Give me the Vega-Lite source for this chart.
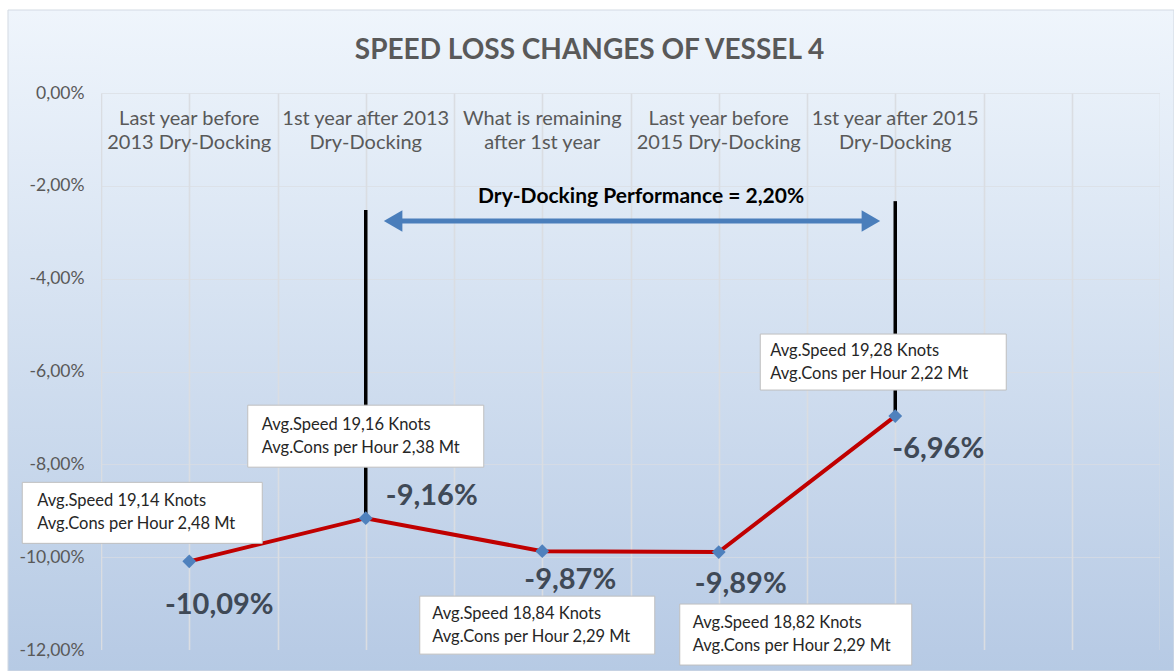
{
  "$schema": "https://vega.github.io/schema/vega-lite/v6.json",
  "width": 1059,
  "height": 557,
  "autosize": {"type": "none"},
  "padding": {"left": 101, "top": 93, "right": 14, "bottom": 21},
  "background": "white",
  "view": {
    "fill": {"gradient": "linear", "x1": 0, "y1": 0, "x2": 0, "y2": 1, "stops": [{"offset": 0, "color": "#e8f0f9"}, {"offset": 1, "color": "#b8cbe5"}]},
    "stroke": null
  },
  "config": {
    "font": "Lato",
    "locale": {"number": {"decimal": ",", "thousands": ".", "grouping": [3], "currency": ["", " €"], "minus": "-", "percent": "%"}},
    "text": {"lineBreak": "\n"}
  },
  "title": {"text": "SPEED LOSS CHANGES OF VESSEL 4", "font": "Lato", "fontSize": 28, "fontWeight": "bold", "color": "#595959", "anchor": "middle", "dx": -41, "offset": -55, "zindex": 1},
  "datasets": {
    "periods": [
      {"period": 1, "label": "Last year before\n2013 Dry-Docking", "loss": -0.1009, "note": "Avg.Speed 19,14 Knots\nAvg.Cons per Hour 2,48 Mt"},
      {"period": 2, "label": "1st year after 2013\nDry-Docking", "loss": -0.0916, "note": "Avg.Speed 19,16 Knots\nAvg.Cons per Hour 2,38 Mt"},
      {"period": 3, "label": "What is remaining\nafter 1st year", "loss": -0.0987, "note": "Avg.Speed 18,84 Knots\nAvg.Cons per Hour 2,29 Mt"},
      {"period": 4, "label": "Last year before\n2015 Dry-Docking", "loss": -0.0989, "note": "Avg.Speed 18,82 Knots\nAvg.Cons per Hour 2,29 Mt"},
      {"period": 5, "label": "1st year after 2015\nDry-Docking", "loss": -0.0696, "note": "Avg.Speed 19,28 Knots\nAvg.Cons per Hour 2,22 Mt"}
    ]
  },
  "data": {"name": "periods"},
  "resolve": {"axis": {"y": "independent"}},
  "layer": [
    {
      "mark": {"type": "point", "opacity": 0},
      "encoding": {
        "x": {"field": "period", "type": "quantitative", "scale": {"domain": [0.5, 6.5], "nice": false, "zero": false},
          "axis": {"orient": "bottom", "values": [0.5, 1, 1.5, 2, 2.5, 3, 3.5, 4, 4.5, 5, 5.5, 6, 6.5], "grid": true, "gridColor": "#dadde2", "gridWidth": 1.6, "labels": false, "ticks": false, "domain": false, "title": null, "zindex": 0}},
        "y": {"field": "loss", "type": "quantitative", "scale": {"domain": [-0.12, 0], "nice": false, "zero": false},
          "axis": {"orient": "left", "values": [-0.12, -0.1, -0.08, -0.06, -0.04, -0.02, 0], "grid": true, "gridColor": "#dadde2", "gridOpacity": 0.7, "gridWidth": 1.2, "labels": false, "ticks": false, "domain": false, "title": null, "zindex": 0}}
      }
    },
    {
      "data": {"values": [{}]},
      "mark": {"type": "rect", "color": {"gradient": "linear", "x1": 0, "y1": 0, "x2": 0, "y2": 1, "stops": [{"offset": 0, "color": "#eff5fc"}, {"offset": 1, "color": "#e8f0f9"}]}},
      "encoding": {
        "x": {"datum": -0.027, "type": "quantitative"},
        "x2": {"datum": 6.579},
        "y": {"datum": 0.01788, "type": "quantitative", "axis": null},
        "y2": {"datum": 0}
      }
    },
    {
      "data": {"values": [{}]},
      "mark": {"type": "rect", "color": {"gradient": "linear", "x1": 0, "y1": 0, "x2": 0, "y2": 1, "stops": [{"offset": 0, "color": "#eff5fc"}, {"offset": 1, "color": "#b6cae4"}]}},
      "encoding": {
        "x": {"datum": -0.027, "type": "quantitative"},
        "x2": {"datum": 0.5},
        "y": {"datum": 0.01788, "type": "quantitative", "axis": null},
        "y2": {"datum": -0.12452}
      }
    },
    {
      "data": {"values": [{}]},
      "mark": {"type": "rect", "color": {"gradient": "linear", "x1": 0, "y1": 0, "x2": 0, "y2": 1, "stops": [{"offset": 0, "color": "#eff5fc"}, {"offset": 1, "color": "#b6cae4"}]}},
      "encoding": {
        "x": {"datum": 6.5, "type": "quantitative"},
        "x2": {"datum": 6.579},
        "y": {"datum": 0.01788, "type": "quantitative", "axis": null},
        "y2": {"datum": -0.12452}
      }
    },
    {
      "data": {"values": [{}]},
      "mark": {"type": "rect", "color": {"gradient": "linear", "x1": 0, "y1": 0, "x2": 0, "y2": 1, "stops": [{"offset": 0, "color": "#b8cbe5"}, {"offset": 1, "color": "#b6cae4"}]}},
      "encoding": {
        "x": {"datum": -0.027, "type": "quantitative"},
        "x2": {"datum": 6.579},
        "y": {"datum": -0.12, "type": "quantitative", "axis": null},
        "y2": {"datum": -0.12452}
      }
    },
    {
      "data": {"values": [{}]},
      "mark": {"type": "rect", "filled": false, "stroke": "#d3dae3", "strokeWidth": 1},
      "encoding": {
        "x": {"datum": -0.027, "type": "quantitative"},
        "x2": {"datum": 6.579},
        "y": {"datum": 0.01788, "type": "quantitative", "axis": null},
        "y2": {"datum": -0.12452}
      }
    },
    {
      "transform": [{"filter": "datum.period == 2"}],
      "mark": {"type": "rule", "color": "#000000", "strokeWidth": 3.5},
      "encoding": {
        "x": {"field": "period", "type": "quantitative"},
        "y": {"field": "loss", "type": "quantitative", "axis": null},
        "y2": {"datum": -0.0252}
      }
    },
    {
      "transform": [{"filter": "datum.period == 5"}],
      "mark": {"type": "rule", "color": "#000000", "strokeWidth": 3.5},
      "encoding": {
        "x": {"field": "period", "type": "quantitative"},
        "y": {"field": "loss", "type": "quantitative", "axis": null},
        "y2": {"datum": -0.0233}
      }
    },
    {
      "data": {"values": [{}]},
      "mark": {"type": "rule", "color": "#4a7ebb", "strokeWidth": 5},
      "encoding": {
        "x": {"datum": 2.19, "type": "quantitative"},
        "x2": {"datum": 4.82},
        "y": {"datum": -0.02757, "type": "quantitative", "axis": null}
      }
    },
    {
      "data": {"values": [{}]},
      "mark": {"type": "point", "shape": "triangle-left", "filled": true, "color": "#4a7ebb", "size": 460, "opacity": 1},
      "encoding": {
        "x": {"datum": 2.155, "type": "quantitative"},
        "y": {"datum": -0.02757, "type": "quantitative", "axis": null}
      }
    },
    {
      "data": {"values": [{}]},
      "mark": {"type": "point", "shape": "triangle-right", "filled": true, "color": "#4a7ebb", "size": 460, "opacity": 1},
      "encoding": {
        "x": {"datum": 4.862, "type": "quantitative"},
        "y": {"datum": -0.02757, "type": "quantitative", "axis": null}
      }
    },
    {
      "data": {"values": [{"text": "Dry-Docking Performance = 2,20%"}]},
      "mark": {"type": "text", "font": "Lato", "fontSize": 21, "fontWeight": "bold", "color": "#000000", "align": "center", "baseline": "middle"},
      "encoding": {
        "x": {"datum": 3.56, "type": "quantitative"},
        "y": {"datum": -0.0224, "type": "quantitative", "axis": null},
        "text": {"field": "text", "type": "nominal"}
      }
    },
    {
      "mark": {"type": "text", "font": "Lato", "fontSize": 20, "color": "#595959", "align": "center", "baseline": "middle", "lineHeight": 24},
      "encoding": {
        "x": {"field": "period", "type": "quantitative"},
        "y": {"datum": -0.0055, "type": "quantitative", "axis": null},
        "text": {"field": "label", "type": "nominal"}
      }
    },
    {
      "mark": {"type": "line", "color": "#c00000", "strokeWidth": 4},
      "encoding": {
        "x": {"field": "period", "type": "quantitative"},
        "y": {"field": "loss", "type": "quantitative", "scale": {"domain": [-0.12, 0], "nice": false, "zero": false},
          "axis": {"orient": "left", "values": [-0.12, -0.1, -0.08, -0.06, -0.04, -0.02, 0], "format": ".2%", "grid": false, "ticks": false, "domain": false, "labelFont": "Lato", "labelFontSize": 17.5, "labelColor": "#595959", "labelPadding": 17, "title": null, "zindex": 1}}
      }
    },
    {
      "mark": {"type": "point", "shape": "diamond", "filled": true, "color": "#4f81bd", "size": 190, "opacity": 1},
      "encoding": {
        "x": {"field": "period", "type": "quantitative"},
        "y": {"field": "loss", "type": "quantitative", "axis": null}
      }
    },
    {
      "transform": [{"filter": "datum.period == 1"}],
      "mark": {"type": "rect", "fill": "#ffffff", "stroke": "#bfbfbf", "strokeWidth": 1, "width": 240, "height": 61, "xOffset": -47, "yOffset": -48.5},
      "encoding": {"x": {"field": "period", "type": "quantitative"}, "y": {"field": "loss", "type": "quantitative", "axis": null}}
    },
    {
      "transform": [{"filter": "datum.period == 2"}],
      "mark": {"type": "rect", "fill": "#ffffff", "stroke": "#bfbfbf", "strokeWidth": 1, "width": 236, "height": 62, "xOffset": 0, "yOffset": -82},
      "encoding": {"x": {"field": "period", "type": "quantitative"}, "y": {"field": "loss", "type": "quantitative", "axis": null}}
    },
    {
      "transform": [{"filter": "datum.period == 3"}],
      "mark": {"type": "rect", "fill": "#ffffff", "stroke": "#bfbfbf", "strokeWidth": 1, "width": 235, "height": 58, "xOffset": -5, "yOffset": 74},
      "encoding": {"x": {"field": "period", "type": "quantitative"}, "y": {"field": "loss", "type": "quantitative", "axis": null}}
    },
    {
      "transform": [{"filter": "datum.period == 4"}],
      "mark": {"type": "rect", "fill": "#ffffff", "stroke": "#bfbfbf", "strokeWidth": 1, "width": 232, "height": 61, "xOffset": 77, "yOffset": 82.5},
      "encoding": {"x": {"field": "period", "type": "quantitative"}, "y": {"field": "loss", "type": "quantitative", "axis": null}}
    },
    {
      "transform": [{"filter": "datum.period == 5"}],
      "mark": {"type": "rect", "fill": "#ffffff", "stroke": "#bfbfbf", "strokeWidth": 1, "width": 246, "height": 56, "xOffset": -12, "yOffset": -54},
      "encoding": {"x": {"field": "period", "type": "quantitative"}, "y": {"field": "loss", "type": "quantitative", "axis": null}}
    },
    {
      "transform": [{"filter": "datum.period == 1"}],
      "mark": {"type": "text", "font": "Lato", "fontSize": 16.5, "color": "#262626", "align": "left", "baseline": "middle", "lineHeight": 23, "dx": -152, "dy": -60},
      "encoding": {"x": {"field": "period", "type": "quantitative"}, "y": {"field": "loss", "type": "quantitative", "axis": null}, "text": {"field": "note", "type": "nominal"}}
    },
    {
      "transform": [{"filter": "datum.period == 2"}],
      "mark": {"type": "text", "font": "Lato", "fontSize": 16.5, "color": "#262626", "align": "left", "baseline": "middle", "lineHeight": 23, "dx": -104, "dy": -93},
      "encoding": {"x": {"field": "period", "type": "quantitative"}, "y": {"field": "loss", "type": "quantitative", "axis": null}, "text": {"field": "note", "type": "nominal"}}
    },
    {
      "transform": [{"filter": "datum.period == 3"}],
      "mark": {"type": "text", "font": "Lato", "fontSize": 16.5, "color": "#262626", "align": "left", "baseline": "middle", "lineHeight": 23, "dx": -110, "dy": 63},
      "encoding": {"x": {"field": "period", "type": "quantitative"}, "y": {"field": "loss", "type": "quantitative", "axis": null}, "text": {"field": "note", "type": "nominal"}}
    },
    {
      "transform": [{"filter": "datum.period == 4"}],
      "mark": {"type": "text", "font": "Lato", "fontSize": 16.5, "color": "#262626", "align": "left", "baseline": "middle", "lineHeight": 23, "dx": -26, "dy": 71},
      "encoding": {"x": {"field": "period", "type": "quantitative"}, "y": {"field": "loss", "type": "quantitative", "axis": null}, "text": {"field": "note", "type": "nominal"}}
    },
    {
      "transform": [{"filter": "datum.period == 5"}],
      "mark": {"type": "text", "font": "Lato", "fontSize": 16.5, "color": "#262626", "align": "left", "baseline": "middle", "lineHeight": 23, "dx": -125, "dy": -65},
      "encoding": {"x": {"field": "period", "type": "quantitative"}, "y": {"field": "loss", "type": "quantitative", "axis": null}, "text": {"field": "note", "type": "nominal"}}
    },
    {
      "transform": [{"filter": "datum.period == 1"}],
      "mark": {"type": "text", "font": "Lato", "fontSize": 29, "fontWeight": "bold", "color": "#3f4956", "align": "center", "baseline": "middle", "dx": 30, "dy": 44},
      "encoding": {"x": {"field": "period", "type": "quantitative"}, "y": {"field": "loss", "type": "quantitative", "axis": null}, "text": {"field": "loss", "type": "quantitative", "format": ".2%"}}
    },
    {
      "transform": [{"filter": "datum.period == 2"}],
      "mark": {"type": "text", "font": "Lato", "fontSize": 29, "fontWeight": "bold", "color": "#3f4956", "align": "center", "baseline": "middle", "dx": 66, "dy": -22},
      "encoding": {"x": {"field": "period", "type": "quantitative"}, "y": {"field": "loss", "type": "quantitative", "axis": null}, "text": {"field": "loss", "type": "quantitative", "format": ".2%"}}
    },
    {
      "transform": [{"filter": "datum.period == 3"}],
      "mark": {"type": "text", "font": "Lato", "fontSize": 29, "fontWeight": "bold", "color": "#3f4956", "align": "center", "baseline": "middle", "dx": 28, "dy": 29},
      "encoding": {"x": {"field": "period", "type": "quantitative"}, "y": {"field": "loss", "type": "quantitative", "axis": null}, "text": {"field": "loss", "type": "quantitative", "format": ".2%"}}
    },
    {
      "transform": [{"filter": "datum.period == 4"}],
      "mark": {"type": "text", "font": "Lato", "fontSize": 29, "fontWeight": "bold", "color": "#3f4956", "align": "center", "baseline": "middle", "dx": 22, "dy": 32},
      "encoding": {"x": {"field": "period", "type": "quantitative"}, "y": {"field": "loss", "type": "quantitative", "axis": null}, "text": {"field": "loss", "type": "quantitative", "format": ".2%"}}
    },
    {
      "transform": [{"filter": "datum.period == 5"}],
      "mark": {"type": "text", "font": "Lato", "fontSize": 29, "fontWeight": "bold", "color": "#3f4956", "align": "center", "baseline": "middle", "dx": 43, "dy": 33},
      "encoding": {"x": {"field": "period", "type": "quantitative"}, "y": {"field": "loss", "type": "quantitative", "axis": null}, "text": {"field": "loss", "type": "quantitative", "format": ".2%"}}
    }
  ]
}
